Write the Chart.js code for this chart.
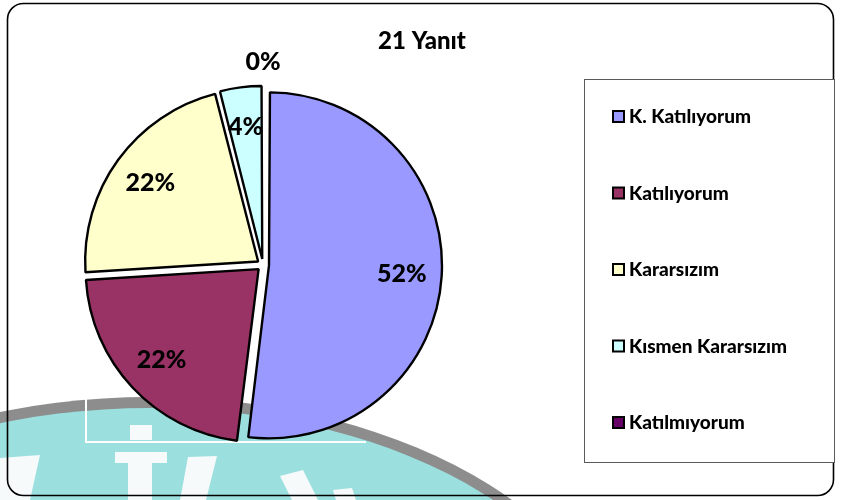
<!DOCTYPE html>
<html>
<head>
<meta charset="utf-8">
<script src="https://cdn.jsdelivr.net/npm/chart.js@4.4.1/dist/chart.umd.min.js"></script>
<style>
html,body{margin:0;padding:0;background:#fff;}
#wrap{width:844px;height:500px;position:relative;}
canvas{display:block;}
</style>
</head>
<body>
<div id="wrap"><canvas id="c" width="844" height="500"></canvas></div>
<script>
// ---- data ----
const titleText = '21 Yanıt';
const categories = ['K. Katılıyorum', 'Katılıyorum', 'Kararsızım', 'Kısmen Kararsızım', 'Katılmıyorum'];
const percentages = [52, 22, 22, 4, 0];
const sliceColors = ['#9999FF', '#993366', '#FFFFCC', '#CCFFFF', '#660066'];

const FONT = 'Lato, "Open Sans", sans-serif';
const WEIGHT = '900';
const PIE_R = 173;      // pie radius in px
const EXPLODE = 6;      // slice explosion distance in px

// background, watermark and frames
const backgroundPlugin = {
  id: 'bg',
  beforeDraw(chart) {
    const ctx = chart.ctx;
    ctx.save();
    ctx.fillStyle = '#ffffff';
    ctx.fillRect(0, 0, chart.width, chart.height);
    // faint watermark logo
    ctx.beginPath();
    ctx.ellipse(150, 697, 480, 300, 0, 0, Math.PI * 2);
    ctx.fillStyle = '#8d8d8d';
    ctx.fill();
    ctx.beginPath();
    ctx.ellipse(150, 697, 469, 289, 0, 0, Math.PI * 2);
    ctx.fillStyle = '#9cdfdf';
    ctx.fill();
    ctx.fillStyle = '#f6fafa';
    const polys = [
      [[130,425],[152,425],[152,440],[130,440]],
      [[115,452],[167,452],[167,463],[115,463]],
      [[128,463],[152,463],[152,500],[128,500]],
      [[0,458],[40,455],[30,500],[0,500]],
      [[188,457],[217,456],[206,500],[180,500]],
      [[280,476],[303,470],[318,500],[292,500]],
      [[333,490],[352,488],[356,500],[336,500]]
    ];
    polys.forEach(p => {
      ctx.beginPath();
      ctx.moveTo(p[0][0], p[0][1]);
      for (let i = 1; i < p.length; i++) ctx.lineTo(p[i][0], p[i][1]);
      ctx.closePath();
      ctx.fill();
    });
    // white plot-area frame remnant
    ctx.strokeStyle = '#ffffff';
    ctx.lineWidth = 2;
    ctx.beginPath();
    ctx.moveTo(86, 398);
    ctx.lineTo(86, 442);
    ctx.lineTo(366, 442);
    ctx.stroke();
    // outer rounded frame
    ctx.strokeStyle = '#000000';
    ctx.lineWidth = 1.6;
    ctx.beginPath();
    ctx.roundRect(7.5, 3.5, 826, 492, 16);
    ctx.stroke();
    // legend box
    ctx.fillStyle = '#ffffff';
    ctx.fillRect(584, 79, 251, 384);
    ctx.strokeStyle = '#5a5a5a';
    ctx.lineWidth = 1;
    ctx.strokeRect(584.5, 79.5, 250, 383);
    ctx.restore();
  }
};

// keep every exploded slice at the same radius
const equalRadiusPlugin = {
  id: 'equalRadius',
  afterDatasetsUpdate(chart) {
    const meta = chart.getDatasetMeta(0);
    meta.data.forEach(arc => {
      const circ = arc.endAngle - arc.startAngle;
      const fix = 1 - Math.sin(Math.min(Math.PI, circ || 0));
      arc.outerRadius = PIE_R - EXPLODE * fix;
    });
  }
};

// title, slice labels, legend
const overlayPlugin = {
  id: 'overlay',
  afterDraw(chart) {
    const ctx = chart.ctx;
    ctx.save();
    ctx.fillStyle = '#000';
    ctx.textAlign = 'center';
    ctx.textBaseline = 'middle';
    ctx.font = WEIGHT + ' 24px ' + FONT;
    ctx.fillText(titleText, 422, 41);

    const meta = chart.getDatasetMeta(0);
    ctx.font = WEIGHT + ' 25px ' + FONT;
    meta.data.forEach((arc, i) => {
      const p = arc.getProps(['x', 'y', 'startAngle', 'endAngle'], true);
      const mid = (p.startAngle + p.endAngle) / 2;
      const v = percentages[i];
      const d = v > 0 ? PIE_R * 0.77 + EXPLODE : PIE_R + 30;
      const lx = p.x + Math.cos(mid) * d;
      const ly = p.y + Math.sin(mid) * d;
      ctx.fillText(v + '%', lx, ly);
    });

    // legend
    ctx.textAlign = 'left';
    ctx.font = WEIGHT + ' 19px ' + FONT;
    const y0 = 117, step = 76.5;
    categories.forEach((name, i) => {
      const y = y0 + i * step;
      ctx.fillStyle = sliceColors[i];
      ctx.fillRect(613, y - 6, 11, 11);
      ctx.strokeStyle = '#000';
      ctx.lineWidth = 2;
      ctx.strokeRect(613, y - 6, 11, 11);
      ctx.fillStyle = '#000';
      ctx.fillText(name, 629, y);
    });
    ctx.restore();
  }
};

new Chart(document.getElementById('c'), {
  type: 'pie',
  data: {
    labels: categories,
    datasets: [{
      data: percentages,
      backgroundColor: sliceColors,
      borderColor: '#000000',
      borderWidth: 2.4,
      offset: EXPLODE * 4,
      radius: PIE_R
    }]
  },
  options: {
    responsive: false,
    animation: false,
    layout: { padding: { left: 10, right: 328, top: 30, bottom: 0 } },
    plugins: {
      legend: { display: false },
      title: { display: false },
      tooltip: { enabled: false }
    }
  },
  plugins: [backgroundPlugin, equalRadiusPlugin, overlayPlugin]
});
</script>
</body>
</html>
